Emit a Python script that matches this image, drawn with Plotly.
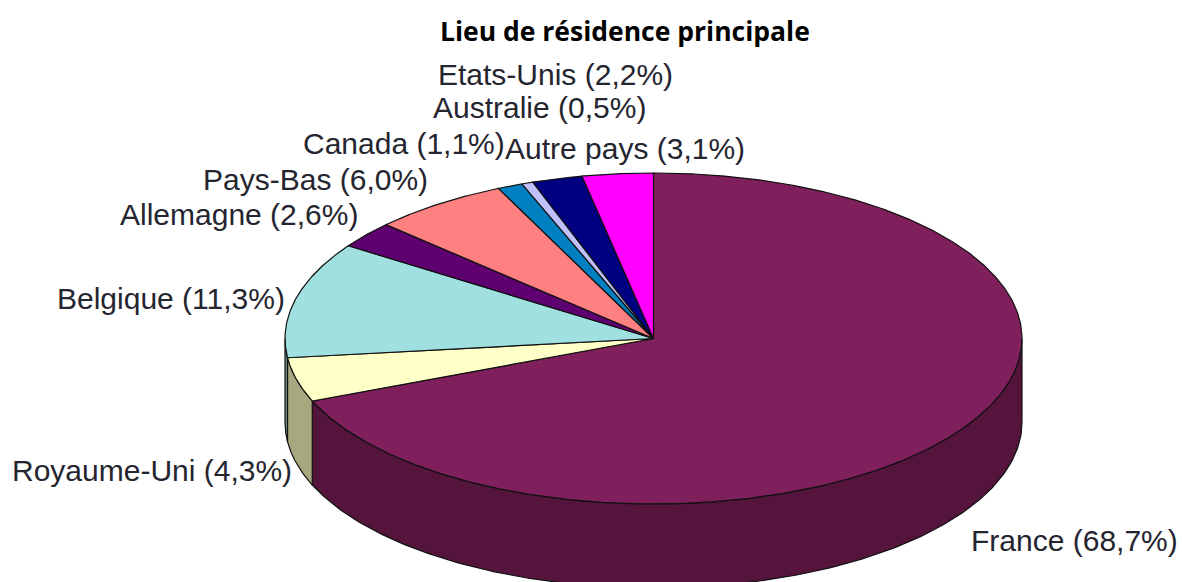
import numpy as np
import plotly.graph_objects as go

categories = ["France", "Royaume-Uni", "Belgique", "Allemagne", "Pays-Bas",
              "Canada", "Australie", "Etats-Unis", "Autre pays"]
values = [68.7, 4.3, 11.3, 2.6, 6.0, 1.1, 0.5, 2.2, 3.1]
top_colors = ["#7F1F5C", "#FFFFC8", "#A0E0E0", "#5F0070", "#FF8080",
              "#0080C0", "#C0C0FF", "#000080", "#FF00FF"]
side_colors = ["#54143C", "#A8A880", "#6A9494", "#3F004A", "#A85454",
               "#00547F", "#7F7FA8", "#000054", "#A800A8"]
label_x = [971, 12, 57, 120, 203, 303, 433, 438, 505]
label_y = [540, 470, 298, 214, 179, 143, 107, 74, 148]

CX, CY, RX, RY, DEPTH = 653.5, 338.5, 368.5, 165.5, 84.0
title = "Lieu de résidence principale"


def to_xy(theta):
    return CX + RX * np.sin(theta), CY - RY * np.cos(theta)


fractions = np.array(values) / sum(values)
edges = np.concatenate([[0], np.cumsum(fractions)]) * 2 * np.pi
line = dict(color="#111111", width=1.2)
fig = go.Figure()

# Side walls: only the part of each slice that faces the viewer
for i in range(len(values)):
    a, b = max(edges[i], np.pi / 2), min(edges[i + 1], 3 * np.pi / 2)
    if b > a:
        t = np.linspace(a, b, 240)
        x, y = to_xy(t)
        fig.add_trace(go.Scatter(
            x=np.concatenate([x, x[::-1], x[:1]]),
            y=np.concatenate([y, y[::-1] + DEPTH, y[:1]]),
            mode="lines", fill="toself", fillcolor=side_colors[i], line=line,
            hoverinfo="skip", showlegend=False))

# Top faces
for i, name in enumerate(categories):
    t = np.linspace(edges[i], edges[i + 1], max(12, int(values[i] * 12)))
    x, y = to_xy(t)
    fig.add_trace(go.Scatter(
        x=np.concatenate([[CX], x, [CX]]),
        y=np.concatenate([[CY], y, [CY]]),
        mode="lines", fill="toself", fillcolor=top_colors[i], line=line,
        name=name, showlegend=False))

for i, name in enumerate(categories):
    text = f"{name} ({values[i]:.1f}%)".replace(".", ",")
    fig.add_annotation(x=label_x[i], y=label_y[i], text=text, showarrow=False,
                       xanchor="left", yanchor="middle", xshift=-2,
                       font=dict(family="Liberation Sans", size=30, color="#252530"))

fig.add_annotation(x=625, y=31, text=f"<b>{title}</b>", showarrow=False,
                   xanchor="center", yanchor="middle",
                   font=dict(family="Open Sans", size=26.5, color="#000000"))

fig.update_layout(
    width=1182, height=582, margin=dict(l=0, r=0, t=0, b=0),
    paper_bgcolor="white", plot_bgcolor="white",
    xaxis=dict(range=[0, 1182], visible=False),
    yaxis=dict(range=[582, 0], visible=False),
)
fig.write_html("out.html", config={"displayModeBar": False},
               post_script="document.body.style.margin='0';")
